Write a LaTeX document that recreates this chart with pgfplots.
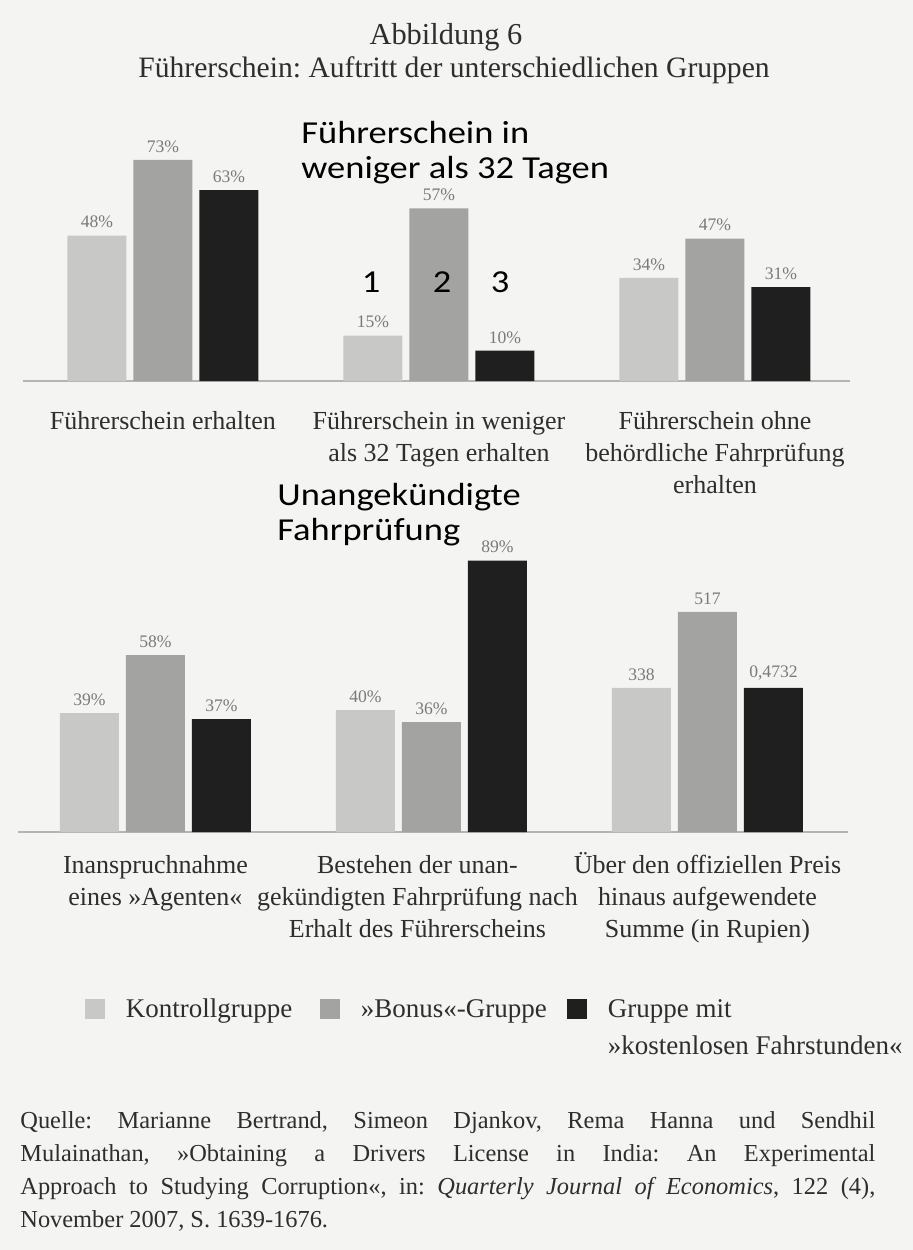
\documentclass[border=0pt]{standalone}
\usepackage{fontspec}
\setmainfont{Liberation Serif}
\newfontfamily\anno{Carlito}
\usepackage{graphicx}
\usepackage{pgfplots}
\pgfplotsset{compat=1.18}
\frenchspacing

\definecolor{paper}{HTML}{F4F4F2}
\definecolor{kontroll}{HTML}{C8C8C6}
\definecolor{bonus}{HTML}{A3A3A1}
\definecolor{fahr}{HTML}{1F1F1F}
\definecolor{axgray}{HTML}{B4B4B2}
\definecolor{labgray}{HTML}{7A7A7A}
\definecolor{ink}{HTML}{2E2E2E}

\newcommand\tl{\vphantom{Ü}}% same first-line height for every tick label
\newcommand\note[1]{\scalebox{1.14}[1]{#1}}
\newcommand\lnudge{\hspace*{-14pt}}% nudges a centred line 7pt to the left

% one panel = three groups of three bars, 1 px of the scan = 0.5pt
\pgfplotsset{
  panel/.style={
    anchor=south west, scale only axis,
    x=138pt, ymin=0, enlargelimits=false,
    ybar=3.5pt, bar width=29.5pt,
    axis x line=bottom, axis y line=none,
    axis line style={draw=axgray, line width=0.6pt, -},
    xtick={0,1,2}, major tick length=0pt,
    xticklabel style={font=\fontsize{13}{16}\selectfont, text=ink, align=center, anchor=north},
    point meta=explicit symbolic,
    nodes near coords={\pgfplotspointmeta},
    every node near coord/.append style={font=\fontsize{8.8}{10}\selectfont, text=labgray, inner sep=0pt, yshift=3.5pt},
    clip=false,
  },
  sq/.style={draw=none, fill=#1, legend image code/.code={\fill[#1] (0pt,-1pt) rectangle (10pt,9pt);}},
}

\begin{document}
\begin{tikzpicture}
\fill[paper] (0pt,0pt) rectangle (456.5pt,-625pt);
\useasboundingbox (0pt,0pt) rectangle (456.5pt,-625pt);

\node[anchor=base, font=\fontsize{15.2}{17}\selectfont, text=ink] at (223pt,-22pt) {Abbildung 6};
\node[anchor=base, font=\fontsize{14.8}{17}\selectfont, text=ink] at (227pt,-38.5pt) {Führerschein: Auftritt der unterschiedlichen Gruppen};

\begin{axis}[panel, at={(11.5pt,-190.5pt)}, y=1.515pt,
  xmin=-0.507, xmax=2.489, ymax=80,
  xticklabel style={yshift=-10pt},
  xticklabels={{\tl Führerschein erhalten},{\tl Führerschein in weniger\\als 32 Tagen erhalten},{\tl Führerschein ohne\\behördliche Fahrprüfung\\erhalten}}]
\addplot[sq=kontroll] coordinates {(0,48)[48\%] (1,15)[15\%] (2,34)[34\%]};
\addplot[sq=bonus] coordinates {(0,73)[73\%] (1,57)[57\%] (2,47)[47\%]};
\addplot[sq=fahr] coordinates {(0,63)[63\%] (1,10)[10\%] (2,31)[31\%]};
\end{axis}

\begin{axis}[panel, at={(9pt,-416pt)}, y=1.525pt,
  xmin=-0.498, xmax=2.509, ymax=95,
  xticklabel style={yshift=-6.5pt},
  xticklabels={{\tl Inanspruchnahme\\eines »Agenten«},{\lnudge\tl Bestehen der unan-\\\lnudge gekündigten Fahrprüfung nach\\\lnudge Erhalt des Führerscheins},{\tl Über den offiziellen Preis\\hinaus aufgewendete\\Summe (in Rupien)}},
  legend columns=3,
  legend style={at={(axis description cs:0.0807,-0.56)}, anchor=north west,
    draw=none, fill=none, inner sep=0pt, outer sep=0pt,
    font=\fontsize{13.5}{16}\selectfont, text=ink,
    column sep=0pt, row sep=3.8pt,
    cells={anchor=base west, inner sep=0pt},
    /tikz/every odd column/.append style={column sep=8.5pt}}]
\addplot[sq=kontroll] coordinates {(0,39)[39\%] (1,40)[40\%] (2,47.3)[338]};
\addlegendentry{\makebox[95pt][l]{Kontrollgruppe}}
\addplot[sq=bonus] coordinates {(0,58)[58\%] (1,36)[36\%] (2,72.2)[517]};
\addlegendentry{\makebox[101pt][l]{»Bonus«-Gruppe}}
\addplot[sq=fahr] coordinates {(0,37)[37\%] (1,89)[89\%] (2,47.3)[{0,4732}]};
\addlegendentry{Gruppe mit}
\addlegendimage{empty legend}\addlegendentry{}
\addlegendimage{empty legend}\addlegendentry{}
\addlegendimage{empty legend}\addlegendentry{»kostenlosen Fahrstunden«}
\end{axis}

% overlay notes added on the scan
\begin{scope}[every node/.style={anchor=base west, inner sep=0pt, font=\anno\fontsize{16}{16}\selectfont, text=black}]
\node at (150.5pt,-71.5pt) {\note{Führerschein in}};
\node at (150.5pt,-89pt) {\note{weniger als 32 Tagen}};
\node[anchor=base] at (185.5pt,-146pt) {\note{1}};
\node[anchor=base] at (221pt,-146pt) {\note{2}};
\node[anchor=base] at (250pt,-146pt) {\note{3}};
\node at (138.5pt,-252.5pt) {\note{Unangekündigte}};
\node at (138.5pt,-270pt) {\note{Fahrprüfung}};
\end{scope}

\node[anchor=north west, inner sep=0pt, text width=427.5pt, align=justify,
  font=\fontsize{12.2}{16.5}\selectfont, text=ink] at (10pt,-555.5pt)
  {Quelle: Marianne Bertrand, Simeon Djankov, Rema Hanna und Sendhil\linebreak
   Mulainathan, »Obtaining a Drivers License in India: An Experimental\linebreak
   Approach to Studying Corruption«, in: \emph{Quarterly Journal of Economics}, 122 (4),\linebreak
   November 2007, S.~1639-1676.};
\end{tikzpicture}
\end{document}
